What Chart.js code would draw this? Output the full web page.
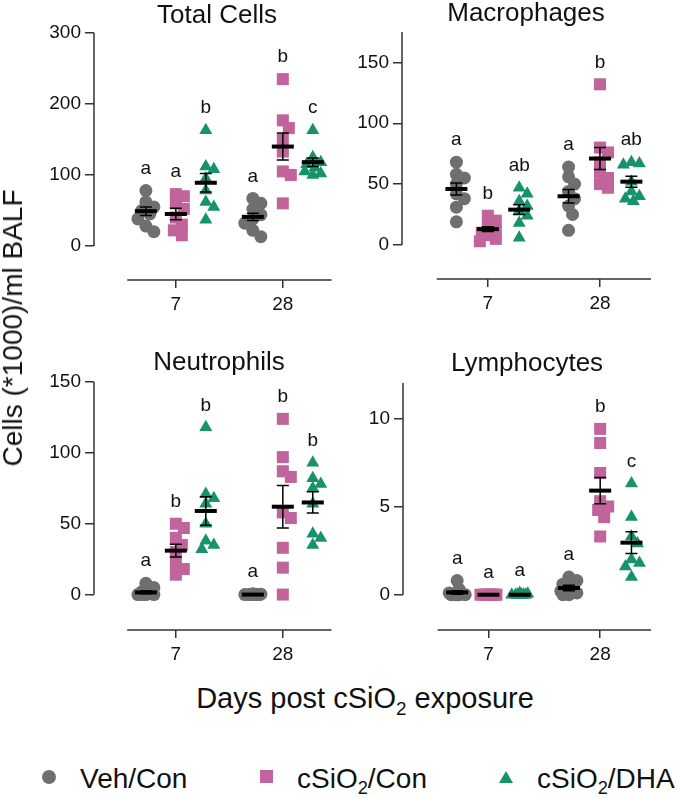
<!DOCTYPE html>
<html>
<head>
<meta charset="utf-8">
<script src="https://cdn.jsdelivr.net/npm/chart.js@4.4.1/dist/chart.umd.min.js"></script>
<style>
  body { margin: 0; background: #fff; }
  #wrap { position: relative; width: 678px; height: 798px; overflow: hidden;
          font-family: "Liberation Sans", Arial, sans-serif; color: #111; }
  canvas { position: absolute; }
  .ttl { position: absolute; font-size: 26px; line-height: 26px; white-space: nowrap;
         transform: translateX(-50%); }
  #ylab { position: absolute; left: 13px; top: 328px; font-size: 28px; white-space: nowrap;
          transform: translate(-50%, -50%) rotate(-90deg); }
  #xlab { position: absolute; left: 365px; top: 684px; font-size: 29px; line-height: 29px;
          white-space: nowrap; transform: translateX(-50%); }
  sub { font-size: 65%; vertical-align: -0.35em; line-height: 0; }
  .leg { position: absolute; top: 765px; font-size: 28px; line-height: 28px; white-space: nowrap; }
  .mk { position: absolute; }
</style>
</head>
<body>
<div id="wrap">
  <canvas id="c1"></canvas>
  <canvas id="c2"></canvas>
  <canvas id="c3"></canvas>
  <canvas id="c4"></canvas>

  <div class="ttl" style="left:217px; top:1px">Total Cells</div>
  <div class="ttl" style="left:526px; top:-1px">Macrophages</div>
  <div class="ttl" style="left:219px; top:348px">Neutrophils</div>
  <div class="ttl" style="left:527px; top:349px">Lymphocytes</div>

  <div id="ylab">Cells (*1000)/ml BALF</div>
  <div id="xlab">Days post cSiO<sub>2</sub> exposure</div>

  <div class="mk" style="left:42px; top:770px; width:14px; height:14px; border-radius:50%; background:#6f6f6f"></div>
  <div class="leg" style="left:80px">Veh/Con</div>
  <div class="mk" style="left:260px; top:770px; width:13px; height:13px; background:#c1649b"></div>
  <div class="leg" style="left:297px">cSiO<sub>2</sub>/Con</div>
  <div class="mk" style="left:499px; top:771px; width:0; height:0; border-left:7px solid transparent; border-right:7px solid transparent; border-bottom:12px solid #17936b"></div>
  <div class="leg" style="left:537px">cSiO<sub>2</sub>/DHA</div>
</div>

<script>
// x categories and groups
const days = ['7', '28'];
const groups = ['Veh/Con', 'cSiO2/Con', 'cSiO2/DHA'];

// individual animals, [day 7, day 28]
const totalVeh = [[78, 62, 55, 50, 45, 38, 28, 20], [67, 60, 52, 44, 38, 32, 22, 13]];
const totalCon = [[73, 70, 60, 52, 40, 30, 22, 15], [235, 177, 166, 150, 133, 105, 100, 60]];
const totalDha = [[163, 112, 108, 95, 78, 62, 55, 37], [163, 125, 118, 115, 110, 105, 102, 100]];

const macroVeh = [[68, 58, 55, 50, 42, 38, 31, 19], [64, 56, 50, 44, 38, 32, 25, 12]];
const macroCon = [[24, 20, 16, 12, 10, 8, 5, 3], [132, 80, 76, 68, 60, 55, 50, 47]];
const macroDha = [[47, 42, 36, 32, 28, 24, 18, 6], [68, 67, 66, 52, 44, 40, 38, 36]];

const neutVeh = [[8, 5, 2, 1, 0, 0, 0, 0], [0.5, 0.3, 0, 0, 0, 0, 0, 0]];
const neutCon = [[50, 47, 40, 35, 30, 22, 18, 14], [124, 97, 87, 83, 58, 54, 33, 19, 0]];
const neutDha = [[118, 71, 68, 64, 50, 38, 35, 32], [93, 82, 78, 75, 64, 43, 40, 35]];

const lymphVeh = [[0.8, 0.3, 0.1, 0, 0, 0, 0, 0], [1.0, 0.8, 0.6, 0.4, 0.2, 0.1, 0, 0]];
const lymphCon = [[0, 0, 0, 0, 0, 0, 0, 0], [9.4, 8.6, 6.9, 5.3, 5.0, 4.8, 4.4, 3.3]];
const lymphDha = [[0.1, 0.05, 0, 0, 0, 0, 0, 0], [6.3, 4.4, 3.3, 2.9, 2.0, 1.8, 1.6, 1.0]];

// mean and SEM, [group][day]
const totalMean = [[49, 41], [45, 140], [89, 118]];
const totalSem = [[6, 5], [8, 19], [13, 6]];
const macroMean = [[46, 40], [13, 71], [29, 52]];
const macroSem = [[5, 5.5], [2, 9], [4, 4.5]];
const neutMean = [[1.5, 0], [31, 62], [59, 65]];
const neutSem = [[1, 0], [4.5, 15], [10, 7.5]];
const lymphMean = [[0.13, 0.38], [0, 5.9], [0, 2.95]];
const lymphSem = [[0.1, 0.15], [0, 0.75], [0, 0.62]];

// significance letters, [group][day]
const totalLetters = [['a', 'a'], ['a', 'b'], ['b', 'c']];
const macroLetters = [['a', 'a'], ['b', 'b'], ['ab', 'ab']];
const neutLetters = [['a', 'a'], ['b', 'b'], ['b', 'b']];
const lymphLetters = [['a', 'a'], ['a', 'b'], ['a', 'c']];

// tick labels
const totalTicks = [0, 100, 200, 300];
const macroTicks = [0, 50, 100, 150];
const neutTicks = [0, 50, 100, 150];
const lymphTicks = [0, 5, 10];

const colors = ['#6f6f6f', '#c1649b', '#17936b'];
const styles = ['circle', 'rect', 'triangle'];
const radii = [6.5, 8.5, 7.5];
const dayPos = [0, 1];
const groupShift = [-0.28, 0, 0.28];

Chart.defaults.font.family = '"Liberation Sans", Arial, sans-serif';
Chart.defaults.font.size = 19;
Chart.defaults.color = '#111';

const barsPlugin = {
  id: 'bars',
  beforeDatasetsDraw(chart, args, opts) {
    const { ctx, chartArea } = chart;
    const xs = chart.scales.x, ys = chart.scales.y;
    ctx.save();
    ctx.strokeStyle = '#333';
    ctx.lineWidth = 1.5;
    ctx.beginPath();
    ctx.moveTo(chartArea.left, ys.getPixelForValue(0));
    ctx.lineTo(chartArea.left, ys.getPixelForValue(ys.max));
    ctx.moveTo(xs.getPixelForValue(opts.xFrom), chartArea.bottom);
    ctx.lineTo(chartArea.right, chartArea.bottom);
    ctx.stroke();
    ctx.restore();
  },
  afterDatasetsDraw(chart, args, opts) {
    const { ctx } = chart;
    const xs = chart.scales.x, ys = chart.scales.y;
    ctx.save();
    ctx.strokeStyle = '#000';
    opts.mean.forEach((row, g) => {
      row.forEach((m, d) => {
        const cx = xs.getPixelForValue(dayPos[d] + groupShift[g]);
        const my = ys.getPixelForValue(m);
        const s = opts.sem[g][d];
        if (s > 0) {
          const y1 = ys.getPixelForValue(m + s), y2 = ys.getPixelForValue(m - s);
          ctx.lineWidth = 1.5;
          ctx.beginPath();
          ctx.moveTo(cx, y1); ctx.lineTo(cx, y2);
          ctx.moveTo(cx - 6, y1); ctx.lineTo(cx + 6, y1);
          ctx.moveTo(cx - 6, y2); ctx.lineTo(cx + 6, y2);
          ctx.stroke();
        }
        ctx.lineWidth = 4;
        ctx.beginPath();
        ctx.moveTo(cx - 11, my); ctx.lineTo(cx + 11, my);
        ctx.stroke();
        // letter above the highest animal
        const top = Math.max(...opts.values[g][d]);
        ctx.fillStyle = '#111';
        ctx.font = '19px "Liberation Sans", Arial, sans-serif';
        ctx.textAlign = 'center';
        ctx.textBaseline = 'middle';
        ctx.fillText(opts.letters[g][d], cx, ys.getPixelForValue(top) - 22);
      });
    });
    ctx.restore();
  }
};

// spread points of one group sideways so they don't stack (beeswarm)
function swarm(chart) {
  const xs = chart.scales.x, ys = chart.scales.y;
  chart.data.datasets.forEach((ds, g) => {
    const out = [];
    ds.groupValues.forEach((vals, d) => {
      const cx = xs.getPixelForValue(dayPos[d] + groupShift[g]);
      const placed = [];
      vals.forEach(v => {
        const py = ys.getPixelForValue(v);
        let best = 0, bestGap = -1;
        for (let k = 0; k <= 4; k++) {
          const cands = k === 0 ? [0] : [k * 2, -k * 2];
          let done = false;
          for (const off of cands) {
            let gap = Infinity;
            placed.forEach(p => { gap = Math.min(gap, Math.hypot(p.off - off, p.py - py)); });
            if (gap >= 9) { best = off; done = true; break; }
            if (gap > bestGap) { bestGap = gap; best = off; }
          }
          if (done) break;
        }
        placed.push({ off: best, py });
        out.push({ x: xs.getValueForPixel(cx + best), y: v });
      });
    });
    ds.data = out;
  });
  chart.update('none');
}

function makePanel(id, place, area, yMin, yMax, yTicks, values, mean, sem, letters) {
  const cv = document.getElementById(id);
  cv.style.left = place.left + 'px';
  cv.style.top = place.top + 'px';
  cv.width = place.w; cv.height = place.h;
  cv.style.width = place.w + 'px'; cv.style.height = place.h + 'px';

  const datasets = groups.map((name, g) => ({
    label: name,
    groupValues: values[g],
    data: values[g].flatMap((vals, d) => vals.map(v => ({ x: dayPos[d] + groupShift[g], y: v }))),
    pointStyle: styles[g],
    pointRadius: radii[g],
    pointHoverRadius: radii[g],
    backgroundColor: colors[g],
    borderWidth: 0,
    clip: false
  }));

  const chart = new Chart(cv, {
    type: 'scatter',
    data: { datasets },
    options: {
      responsive: false,
      animation: false,
      events: [],
      layout: { padding: { top: area.top, left: 0, right: place.w - area.right, bottom: 0 } },
      plugins: {
        legend: { display: false },
        tooltip: { enabled: false },
        bars: { xFrom: -0.455, mean, sem, letters, values }
      },
      scales: {
        x: {
          type: 'linear', min: -0.765, max: 1.455,
          afterFit: s => { s.height = place.h - area.bottom; },
          afterBuildTicks: s => { s.ticks = dayPos.map(v => ({ value: v })); },
          ticks: { autoSkip: false, padding: 5, callback: (v, i) => days[i] },
          grid: { drawOnChartArea: false, drawTicks: true, tickLength: 8, color: '#333', lineWidth: 1.5 },
          border: { display: false }
        },
        y: {
          min: yMin, max: yMax,
          afterFit: s => { s.width = area.left; },
          afterBuildTicks: s => { s.ticks = yTicks.map(v => ({ value: v })); },
          ticks: { padding: 4 },
          grid: { drawOnChartArea: false, drawTicks: true, tickLength: 9, color: '#333', lineWidth: 1.5 },
          border: { display: false }
        }
      }
    },
    plugins: [barsPlugin]
  });
  swarm(chart);
}

makePanel('c1', { left: 0, top: 0, w: 340, h: 320 }, { left: 94, top: 33, right: 340, bottom: 280 },
  -48, 300, totalTicks, [totalVeh, totalCon, totalDha], totalMean, totalSem, totalLetters);
makePanel('c2', { left: 340, top: 0, w: 338, h: 320 }, { left: 62, top: 32, right: 311, bottom: 279 },
  -28, 175, macroTicks, [macroVeh, macroCon, macroDha], macroMean, macroSem, macroLetters);
makePanel('c3', { left: 0, top: 320, w: 340, h: 360 }, { left: 94, top: 62, right: 340, bottom: 310 },
  -25, 150, neutTicks, [neutVeh, neutCon, neutDha], neutMean, neutSem, neutLetters);
makePanel('c4', { left: 340, top: 320, w: 338, h: 360 }, { left: 63, top: 63, right: 311, bottom: 310 },
  -2, 12, lymphTicks, [lymphVeh, lymphCon, lymphDha], lymphMean, lymphSem, lymphLetters);
</script>
</body>
</html>
